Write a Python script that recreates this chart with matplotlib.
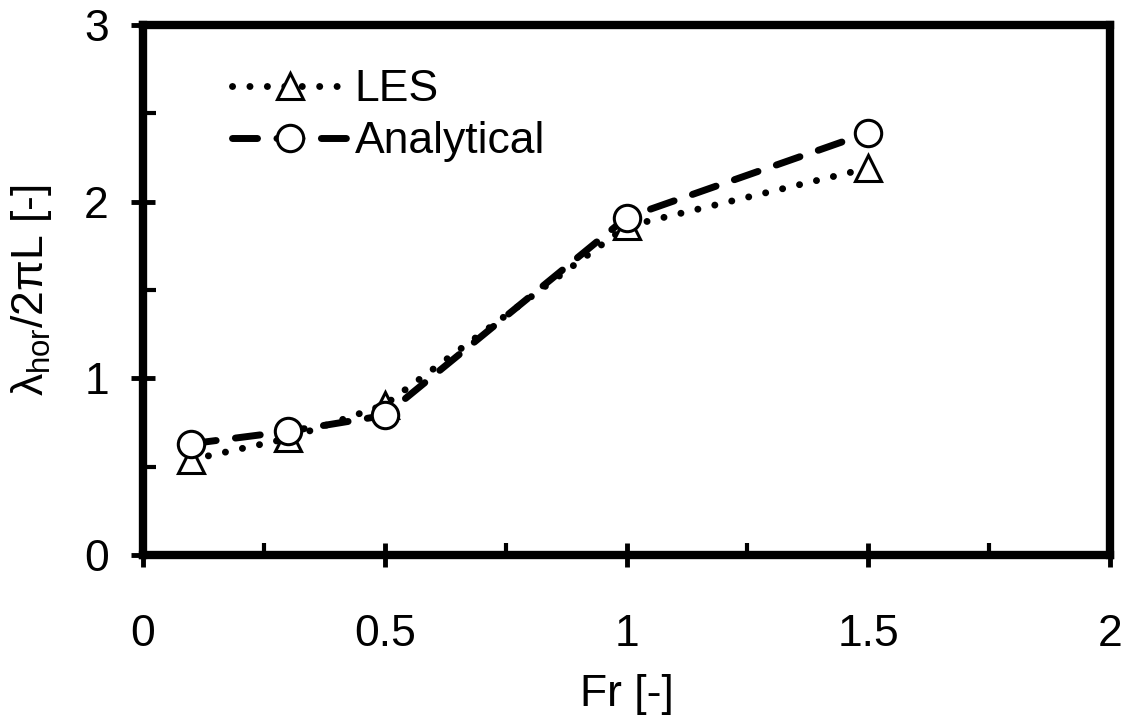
import matplotlib
matplotlib.use("Agg")
import matplotlib.pyplot as plt
from matplotlib.ticker import MultipleLocator
from matplotlib import font_manager

# values
fr = [0.1, 0.3, 0.5, 1.0, 1.5]
les = [0.54, 0.66, 0.85, 1.86, 2.19]
analytical = [0.63, 0.70, 0.79, 1.91, 2.39]

names = {f.name for f in font_manager.fontManager.ttflist}
family = "Liberation Sans Narrow" if "Liberation Sans Narrow" in names else "Liberation Sans"
plt.rcParams["font.family"] = [family, "DejaVu Sans"]
plt.rcParams["mathtext.fontset"] = "custom"
plt.rcParams["mathtext.rm"] = family
plt.rcParams["mathtext.it"] = family

fig = plt.figure(figsize=(11.3, 7.15), dpi=100)
ax = fig.add_axes([143 / 1130, 1 - 555 / 715, (1110 - 143) / 1130, (555 - 25) / 715])

ax.plot(fr, les, linestyle=(0, (0.01, 2.5)), color="black", lw=5,
        dash_capstyle="round", marker="^", ms=19, mfc="white", mec="black",
        mew=2.2, label="LES")
ax.plot(fr, analytical, linestyle=(0, (3.6, 2.8)), color="black", lw=5,
        dash_capstyle="round", marker="o", ms=19, mfc="white", mec="black",
        mew=2.2, label="Analytical")

ax.set_xlim(0, 2)
ax.set_ylim(0, 3)
ax.xaxis.set_minor_locator(MultipleLocator(0.25))
ax.yaxis.set_minor_locator(MultipleLocator(0.5))
ax.set_xticks([0, 0.5, 1, 1.5, 2], ["0", "0.5", "1", "1.5", "2"])
ax.set_yticks([0, 1, 2, 3], ["0", "1", "2", "3"])

for s in ax.spines.values():
    s.set_linewidth(6)
ax.tick_params(which="major", direction="inout", length=17, width=3.5,
               labelsize=32)
ax.tick_params(axis="x", which="major", pad=34)
ax.tick_params(axis="y", which="major", pad=16)
ax.tick_params(which="minor", direction="in", length=9, width=3)

ax.set_xlabel("Fr [-]", fontsize=32, labelpad=14)
ax.set_ylabel(r"$\lambda_{\mathrm{hor}}$/2πL [-]", fontsize=32, labelpad=22)

ax.legend(loc="upper left", frameon=False, fontsize=32, handlelength=2.6,
          handletextpad=0.15, labelspacing=0.25, borderaxespad=0.0,
          bbox_to_anchor=(0.074, 0.95))

fig.savefig("out.png", dpi=100)
